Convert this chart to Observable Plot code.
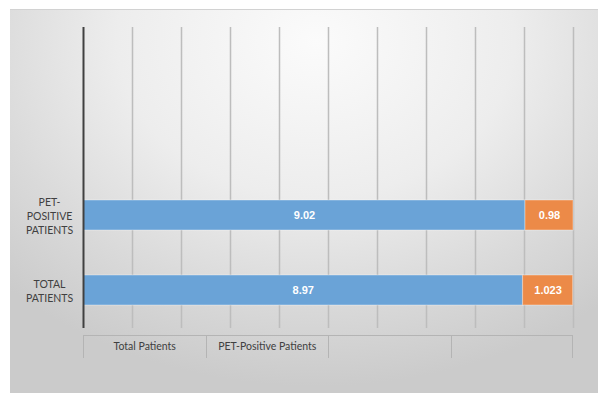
<!DOCTYPE html>
<html>
<head>
<meta charset="utf-8">
<script src="https://cdn.jsdelivr.net/npm/d3@7"></script>
<script src="https://cdn.jsdelivr.net/npm/@observablehq/plot@0.6"></script>
<style>
  html, body { margin: 0; padding: 0; background: #ffffff; }
  #wrap { position: relative; width: 598px; height: 393px; overflow: hidden; background: #fff; }
  #panel {
    position: absolute; left: 10px; top: 9px; width: 588px; height: 384px;
    border-top: 1px solid #d2d2d2;
    background: radial-gradient(ellipse 75% 90% at 52% 8%, #fbfbfb 0%, #ededed 45%, #dadada 75%, #cbcbcb 100%);
  }
  #chart { position: absolute; left: 0; top: 0; }
  #table {
    position: absolute; left: 83px; top: 335px; width: 490px; height: 22px;
    display: grid; grid-template-columns: repeat(4, 1fr);
    border-top: 1.5px solid #b4b4b4;
    font-family: Lato, "Open Sans", sans-serif; font-size: 10.5px; color: #404040;
  }
  #table div { border-left: 1.5px solid #b4b4b4; text-align: center; line-height: 21px; }
  #table div:last-child { border-right: 1.5px solid #b4b4b4; }
</style>
</head>
<body>
<div id="wrap">
  <div id="panel"></div>
  <div id="chart"></div>
  <div id="table"></div>
</div>
<script>
// ---- data ----
const categories = ["TOTAL PATIENTS", "PET-POSITIVE PATIENTS"];
const categoryLabels = ["TOTAL\nPATIENTS", "PET-\nPOSITIVE\nPATIENTS"];
const blueValues = [8.97, 9.02];
const orangeValues = [1.023, 0.98];
const valueLabels = [["8.97", "9.02"], ["1.023", "0.98"]];
const seriesNames = ["Series A", "Series B"];
const emptySlots = ["slot4", "slot3"];        // unused category rows at the top
const tableLabels = ["Total Patients", "PET-Positive Patients", "", ""];
const xTicks = [0, 1, 2, 3, 4, 5, 6, 7, 8, 9, 10];

const rows = [];
categories.forEach((c, i) => {
  rows.push({cat: c, series: seriesNames[0], value: blueValues[i], label: valueLabels[0][i]});
  rows.push({cat: c, series: seriesNames[1], value: orangeValues[i], label: valueLabels[1][i]});
});
const labelOf = new Map(categories.map((c, i) => [c, categoryLabels[i]]));

const chart = Plot.plot({
  width: 598,
  height: 393,
  marginLeft: 83,
  marginRight: 25,
  marginTop: 27,
  marginBottom: 65,
  style: {background: "transparent", overflow: "visible"},
  x: {domain: [0, 10], axis: null},
  y: {
    domain: [...emptySlots, ...categories.slice().reverse()],
    paddingInner: 0.6,
    paddingOuter: 0.3,
    axis: null
  },
  color: {domain: seriesNames, range: ["#6aa3d7", "#ec8a48"]},
  marks: [
    Plot.ruleX(xTicks.slice(1), {stroke: "#bdbdbd", strokeWidth: 1.5, ariaLabel: "grid"}),
    Plot.barX(rows, Plot.stackX({
      y: "cat", x: "value", z: "series", fill: "series", order: seriesNames,
      stroke: "#ffffff", strokeOpacity: 0.3, strokeWidth: 1.2
    })),
    Plot.text(rows, Plot.stackX({
      y: "cat", x: "value", z: "series", text: "label", order: seriesNames,
      fill: "white", fontWeight: "bold", fontSize: 11,
      fontFamily: "'Liberation Sans', Arial, sans-serif"
    })),
    Plot.ruleX([0], {stroke: "#404040", strokeWidth: 2}),
    Plot.axisY({
      tickSize: 0, tickPadding: 0, textAnchor: "middle", dx: -34, label: null,
      tickFormat: d => labelOf.get(d) ?? "",
      fontSize: 10.5, lineHeight: 1.3, fill: "#404040",
      fontFamily: "Lato, 'Open Sans', sans-serif"
    })
  ]
});

// vertical gradient on grid lines (lighter at top, darker near bars)
const [y0, y1] = chart.scale("y").range;
const svg = d3.select(chart);
const defs = svg.insert("defs", ":first-child");
const g = defs.append("linearGradient").attr("id", "gridgrad")
  .attr("gradientUnits", "userSpaceOnUse")
  .attr("x1", 0).attr("x2", 0).attr("y1", y0).attr("y2", y1);
g.append("stop").attr("offset", "0%").attr("stop-color", "#dedede");
g.append("stop").attr("offset", "45%").attr("stop-color", "#c6c6c6");
g.append("stop").attr("offset", "65%").attr("stop-color", "#a2a2a2");
g.append("stop").attr("offset", "100%").attr("stop-color", "#9a9a9a");
svg.selectAll("g[aria-label=grid] line").attr("stroke", "url(#gridgrad)");
svg.select("g[aria-label=grid]").attr("stroke", "url(#gridgrad)");

document.getElementById("chart").appendChild(chart);

const table = document.getElementById("table");
tableLabels.forEach(t => {
  const d = document.createElement("div");
  d.textContent = t;
  table.appendChild(d);
});
</script>
</body>
</html>
